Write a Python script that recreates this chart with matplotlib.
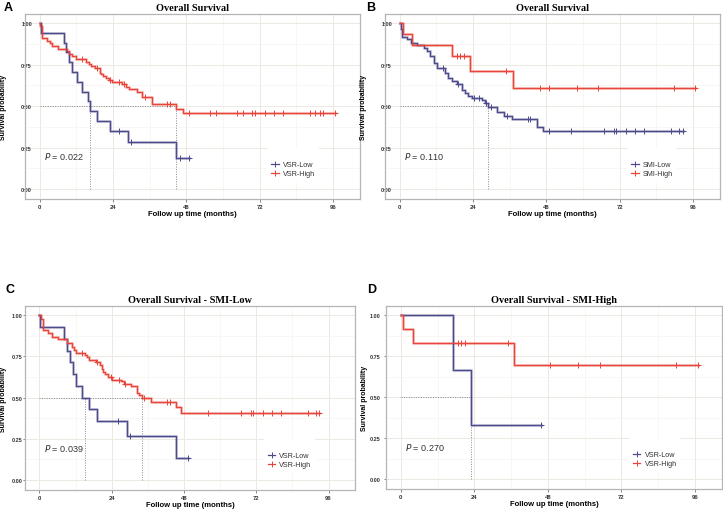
import numpy as np
import matplotlib
matplotlib.use("Agg")
import matplotlib.pyplot as plt
from matplotlib.lines import Line2D

plt.rcParams['font.family'] = ['Liberation Sans', 'DejaVu Sans']

# ---- data (months, survival probability) ----
# A: VSR, whole cohort
a_low_t = [0.4, 7.9, 8.7, 9.6, 10.7, 12.1, 13.9, 15.8, 16.6, 18.8, 22.9, 28.8, 44.7]
a_low_s = [0.941, 0.882, 0.824, 0.765, 0.706, 0.647, 0.588, 0.529, 0.471, 0.412, 0.353, 0.282, 0.188]
a_low_cens = [26.1, 29.9, 45.8, 48.9]
a_high_t = [0.1, 0.9, 2.5, 3.3, 3.9, 6.0, 8.8, 9.6, 10.7, 12.0, 15.3, 16.0, 16.8, 18.0, 19.7, 20.1,
            20.8, 21.8, 22.7, 23.7, 27.0, 28.4, 29.1, 31.8, 33.5, 36.7, 44.7, 46.8]
a_high_s = [0.985, 0.91, 0.895, 0.88, 0.865, 0.845, 0.83, 0.815, 0.80, 0.785, 0.767, 0.753, 0.743, 0.729,
            0.703, 0.693, 0.679, 0.667, 0.66, 0.646, 0.632, 0.618, 0.602, 0.588, 0.558, 0.515, 0.485, 0.461]
a_high_cens = [13.9, 18.8, 22.9, 26.1, 27.7, 34.6, 41.6, 42.7, 48.7, 55.8, 57.7, 64.7, 66.4, 69.6,
               70.4, 73.7, 76.6, 79.7, 88.6, 90.0, 91.6, 92.7, 96.7]

# B: SMI, whole cohort
b_low_t = [0.3, 0.8, 2.4, 3.8, 5.6, 7.8, 8.9, 10.0, 11.1, 12.1, 14.9, 15.9, 17.0, 18.7, 20.3, 21.4,
           22.5, 23.5, 26.8, 27.9, 29.0, 31.7, 34.2, 36.6, 44.9, 46.9]
b_low_s = [0.966, 0.915, 0.905, 0.88, 0.867, 0.85, 0.83, 0.80, 0.76, 0.73, 0.70, 0.67, 0.654, 0.634,
           0.60, 0.58, 0.563, 0.549, 0.535, 0.519, 0.495, 0.465, 0.443, 0.423, 0.376, 0.348]
b_low_cens = [14.1, 19.0, 24.4, 26.0, 28.2, 29.8, 35.2, 42.0, 42.8, 48.8, 56.1, 66.9, 70.0, 70.9,
              74.0, 76.9, 79.9, 88.8, 91.5, 92.6]
b_high_t = [1.0, 4.0, 17.0, 23.0, 37.1]
b_high_s = [0.933, 0.867, 0.80, 0.711, 0.61]
b_high_cens = [18.7, 19.7, 21.0, 34.9, 45.8, 48.8, 57.9, 64.9, 89.9, 96.7]

# C: VSR within SMI-Low
c_low_t = [0.2, 8.3, 9.0, 10.1, 11.2, 12.0, 14.1, 16.3, 19.1, 29.1, 45.2]
c_low_s = [0.929, 0.857, 0.786, 0.714, 0.643, 0.571, 0.5, 0.429, 0.357, 0.268, 0.134]
c_low_cens = [26.1, 30.0, 49.3]
c_high_t = [0.5, 1.3, 3.0, 4.1, 6.1, 9.3, 10.7, 11.5, 12.3, 15.0, 15.9, 16.6, 18.8, 20.1, 20.7, 21.1,
            21.7, 22.8, 24.2, 27.2, 28.0, 30.4, 32.4, 33.2, 34.2, 37.2, 45.2, 47.1]
c_high_s = [0.98, 0.913, 0.893, 0.867, 0.853, 0.833, 0.807, 0.787, 0.773, 0.76, 0.746, 0.73, 0.716, 0.70,
            0.672, 0.656, 0.642, 0.626, 0.61, 0.60, 0.584, 0.568, 0.529, 0.515, 0.495, 0.475, 0.445, 0.41]
c_high_cens = [14.1, 19.1, 23.7, 26.4, 28.3, 34.8, 42.2, 43.3, 56.1, 67.0, 70.1, 71.0, 74.2, 77.2,
               80.2, 89.1, 92.0, 92.9]

# D: VSR within SMI-High
d_low_t = [17.1, 22.8]
d_low_s = [0.667, 0.333]
d_low_cens = [45.9]
d_high_t = [0.9, 4.0, 36.9]
d_high_s = [0.917, 0.833, 0.694]
d_high_cens = [18.8, 19.8, 20.9, 34.9, 48.8, 57.7, 64.9, 89.7, 96.9]

p_values = ["0.022", "0.110", "0.039", "0.270"]
titles = ["Overall Survival", "Overall Survival", "Overall Survival - SMI-Low", "Overall Survival - SMI-High"]
letters = ["A", "B", "C", "D"]
group_names = [["VSR-Low", "VSR-High"], ["SMI-Low", "SMI-High"], ["VSR-Low", "VSR-High"], ["VSR-Low", "VSR-High"]]

BLUE = "#4d4a8c"
RED = "#e8443a"
GRID = "#ece8e2"
GRID_MINOR = "#f6f4f0"


def step_value(t, s, x):
    t = np.asarray(t)
    s = np.asarray(s)
    i = np.searchsorted(t, x, side="right") - 1
    return np.where(i >= 0, s[np.clip(i, 0, None)], 1.0)


def median_time(t, s):
    t = np.asarray(t)
    s = np.asarray(s)
    idx = np.where(s <= 0.5 + 1e-9)[0]
    if len(idx) == 0:
        return None
    i = idx[0]
    # survfit convention: exact 0.5 plateau -> midpoint
    if np.isclose(s[i], 0.5) and i + 1 < len(t):
        return (t[i] + t[i + 1]) / 2
    return t[i]


def km_panel(ax, curves, pval, title, names, ytick_pad, ylab_x):
    ax.set_xlim(-4.8, 104.8)
    ax.set_ylim(-0.06, 1.056)
    ax.set_xticks([0, 24, 48, 72, 96])
    ax.set_xticks([12, 36, 60, 84], minor=True)
    ax.set_yticks([0, 0.25, 0.5, 0.75, 1.0])
    ax.set_yticks([0.125, 0.375, 0.625, 0.875], minor=True)
    ax.set_yticklabels(["0.00", "0.25", "0.50", "0.75", "1.00"])
    ax.grid(True, which="major", color=GRID, lw=0.7)
    ax.grid(True, which="minor", color=GRID_MINOR, lw=0.5)
    ax.set_axisbelow(True)
    ax.tick_params(which="major", length=2, width=0.5, color="#555555", labelsize=4.2, pad=1.5)
    ax.tick_params(axis="y", which="major", pad=ytick_pad, length=1.5, labelsize=4.0)
    ax.tick_params(which="minor", length=0)
    for lab in ax.get_xticklabels() + ax.get_yticklabels():
        lab.set_fontweight("bold")
        lab.set_color("#333333")
    for sp in ax.spines.values():
        sp.set_color("#b5b5b5")
        sp.set_linewidth(0.9)

    # median lines
    meds = [median_time(t, s) for t, s, c, col in curves]
    meds = [m for m in meds if m is not None]
    if meds:
        ax.plot([0, max(meds)], [0.5, 0.5], ls=(0, (1, 1.5)), color="#8a8a8a", lw=0.7, zorder=2)
        for m in meds:
            ax.plot([m, m], [0, 0.5], ls=(0, (1, 1.5)), color="#8a8a8a", lw=0.7, zorder=2)

    handles = []
    for (t, s, cens, col), name in zip(curves, names):
        end = max(max(cens), max(t))
        xs = np.concatenate([[0], t, [end]])
        ys = np.concatenate([[1.0], s, [s[-1]]])
        ax.step(xs, ys, where="post", color=col, lw=2.2, alpha=0.3, zorder=3)
        ax.step(xs, ys, where="post", color=col, lw=0.9, zorder=4)
        cy = step_value(t, s, np.asarray(cens))
        ax.plot(cens, cy, ls="none", marker="+", ms=4, mew=0.7, color=col, zorder=5)
        handles.append(Line2D([], [], color=col, lw=0.9, marker="+", ms=4, mew=0.7))

    ax.text(1.5, 0.2, "$\\it{P}$ = " + pval, fontsize=6.5, color="#333333", va="center", ha="left")
    leg = ax.legend(handles, names, loc="lower left", bbox_to_anchor=(0.712, 0.075),
                    fontsize=5.2, frameon=True, handlelength=1.0, handletextpad=0.6,
                    labelspacing=0.25, borderpad=0.6, title=" ", title_fontsize=5)
    leg.get_frame().set_edgecolor("none")
    leg.get_frame().set_facecolor("white")
    leg.get_frame().set_alpha(1)
    for txt in leg.get_texts():
        txt.set_color("#333333")

    ax.set_title(title, fontsize=7.4, fontweight="bold", family="Liberation Serif", pad=3)
    ax.set_xlabel("Follow up time (months)", fontsize=5.5, fontweight="bold", labelpad=1)
    ax.set_ylabel("Survival probability", fontsize=5.0, fontweight="bold")
    ax.yaxis.set_label_coords(ylab_x, 0.5)


fig = plt.figure(figsize=(7.23, 5.10), dpi=100)
W, H = 723.0, 510.0
boxes = [(25, 15, 360, 200), (385, 15, 720, 200), (25, 307, 355, 491), (386, 307, 722, 490)]
panels = [
    [(a_low_t, a_low_s, a_low_cens, BLUE), (a_high_t, a_high_s, a_high_cens, RED)],
    [(b_low_t, b_low_s, b_low_cens, BLUE), (b_high_t, b_high_s, b_high_cens, RED)],
    [(c_low_t, c_low_s, c_low_cens, BLUE), (c_high_t, c_high_s, c_high_cens, RED)],
    [(d_low_t, d_low_s, d_low_cens, BLUE), (d_high_t, d_high_s, d_high_cens, RED)],
]
letter_pos = [(4, 2), (366, 2), (5, 284), (367, 284)]
ytick_pads = [-6.5, -6.5, 0.5, 2.5]
ylab_xs = [-0.053, -0.055, -0.054, -0.055]

for k in range(4):
    x0, y0, x1, y1 = boxes[k]
    ax = fig.add_axes([x0 / W, 1 - y1 / H, (x1 - x0) / W, (y1 - y0) / H])
    km_panel(ax, panels[k], p_values[k], titles[k], group_names[k], ytick_pads[k], ylab_xs[k])
    lx, ly = letter_pos[k]
    fig.text(lx / W, 1 - ly / H, letters[k], fontsize=9, fontweight="bold", va="top", ha="left")

fig.savefig("out.png", dpi=100)
